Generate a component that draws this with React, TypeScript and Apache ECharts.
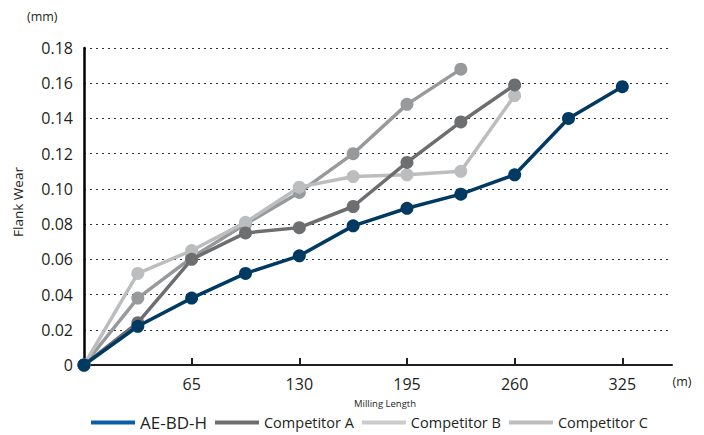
import React, { useEffect, useRef } from "react";
import * as echarts from "echarts";

const lengths = [0, 32.5, 65, 97.5, 130, 162.5, 195, 227.5, 260, 292.5, 325];
const aeBdH = [0, 0.022, 0.038, 0.052, 0.062, 0.079, 0.089, 0.097, 0.108, 0.14, 0.158];
const competitorA = [0, 0.024, 0.06, 0.075, 0.078, 0.09, 0.115, 0.138, 0.159];
const competitorB = [0, 0.052, 0.065, 0.081, 0.101, 0.107, 0.108, 0.11, 0.153];
const competitorC = [0, 0.038, 0.061, 0.08, 0.098, 0.12, 0.148, 0.168];
const xTicks = [65, 130, 195, 260, 325];
const seriesNames = ["AE-BD-H", "Competitor A", "Competitor B", "Competitor C"];

const FONT = "'Open Sans', 'Noto Sans', sans-serif";
const TXT = "#231f20";

function pairs(vals: number[]) {
  return vals.map((v, i) => [lengths[i], v]);
}

export default function App() {
  const ref = useRef<HTMLDivElement>(null);
  useEffect(() => {
    if (!ref.current) return;
    const chart = echarts.init(ref.current, null, { renderer: "svg" });
    const lineColors = ["#003a63", "#6d6e70", "#bcbdbf", "#98999b"];
    const legendColors = ["#0b5ea6", "#6d6d6d", "#cbcbcb", "#bdbdc0"];
    const datasets = [aeBdH, competitorA, competitorB, competitorC];
    const order = [3, 2, 1, 0];
    chart.setOption({
      animation: false,
      textStyle: { fontFamily: FONT },
      grid: { left: 84, right: 32, top: 48, bottom: 70, containLabel: false },
      xAxis: {
        type: "value",
        min: 0,
        max: 355,
        interval: 65,
        axisLine: { show: true, lineStyle: { color: TXT, width: 2 } },
        axisTick: {
          show: true,
          inside: true,
          length: 7,
          customValues: xTicks,
          lineStyle: { color: TXT, width: 2 },
        },
        axisLabel: {
          customValues: xTicks,
          color: TXT,
          fontSize: 16,
          margin: 11,
          fontFamily: FONT,
        },
        splitLine: { show: false },
      },
      yAxis: {
        type: "value",
        min: 0,
        max: 0.18,
        interval: 0.02,
        axisLine: { show: true, lineStyle: { color: "#000", width: 2.5 } },
        axisTick: { show: false },
        axisLabel: {
          color: TXT,
          fontSize: 16,
          margin: 11,
          fontFamily: FONT,
          formatter: (v: number) => (v === 0 ? "0" : v.toFixed(2)),
        },
        splitLine: {
          show: true,
          lineStyle: { color: "#333", width: 1.2, type: [2, 4] },
        },
      },
      legend: {
        top: 409,
        left: 86,
        itemWidth: 44,
        itemHeight: 4,
        itemGap: 8,
        icon: "rect",
        textStyle: { color: TXT, fontSize: 14.5, fontFamily: FONT },
        data: seriesNames.map((n, i) => ({
          name: n,
          itemStyle: { color: legendColors[i] },
          textStyle: i === 0 ? { fontSize: 17 } : {},
        })),
      },
      graphic: [
        {
          type: "text",
          left: 27,
          top: 10,
          style: { text: "(mm)", fill: TXT, fontSize: 12.5, fontFamily: FONT },
        },
        {
          type: "text",
          x: 18,
          y: 202,
          rotation: Math.PI / 2,
          style: {
            text: "Flank Wear",
            fill: TXT,
            fontSize: 13.5,
            fontFamily: FONT,
            align: "center",
            verticalAlign: "middle",
          },
        },
        {
          type: "text",
          x: 385,
          y: 403,
          style: {
            text: "Milling Length",
            fill: TXT,
            fontSize: 9.5,
            fontFamily: FONT,
            align: "center",
            verticalAlign: "middle",
          },
        },
        {
          type: "text",
          x: 682,
          y: 381,
          style: {
            text: "(m)",
            fill: TXT,
            fontSize: 12.5,
            fontFamily: FONT,
            align: "center",
            verticalAlign: "middle",
          },
        },
      ],
      series: order.map((i) => ({
        name: seriesNames[i],
        type: "line",
        data: pairs(datasets[i]),
        symbol: "circle",
        symbolSize: 13,
        z: 10 - i,
        lineStyle: { color: lineColors[i], width: 3.5 },
        itemStyle: { color: lineColors[i] },
      })),
    });
    return () => chart.dispose();
  }, []);
  return (
    <div
      ref={ref}
      style={{ position: "absolute", left: 0, top: 0, width: 704, height: 435 }}
    />
  );
}
